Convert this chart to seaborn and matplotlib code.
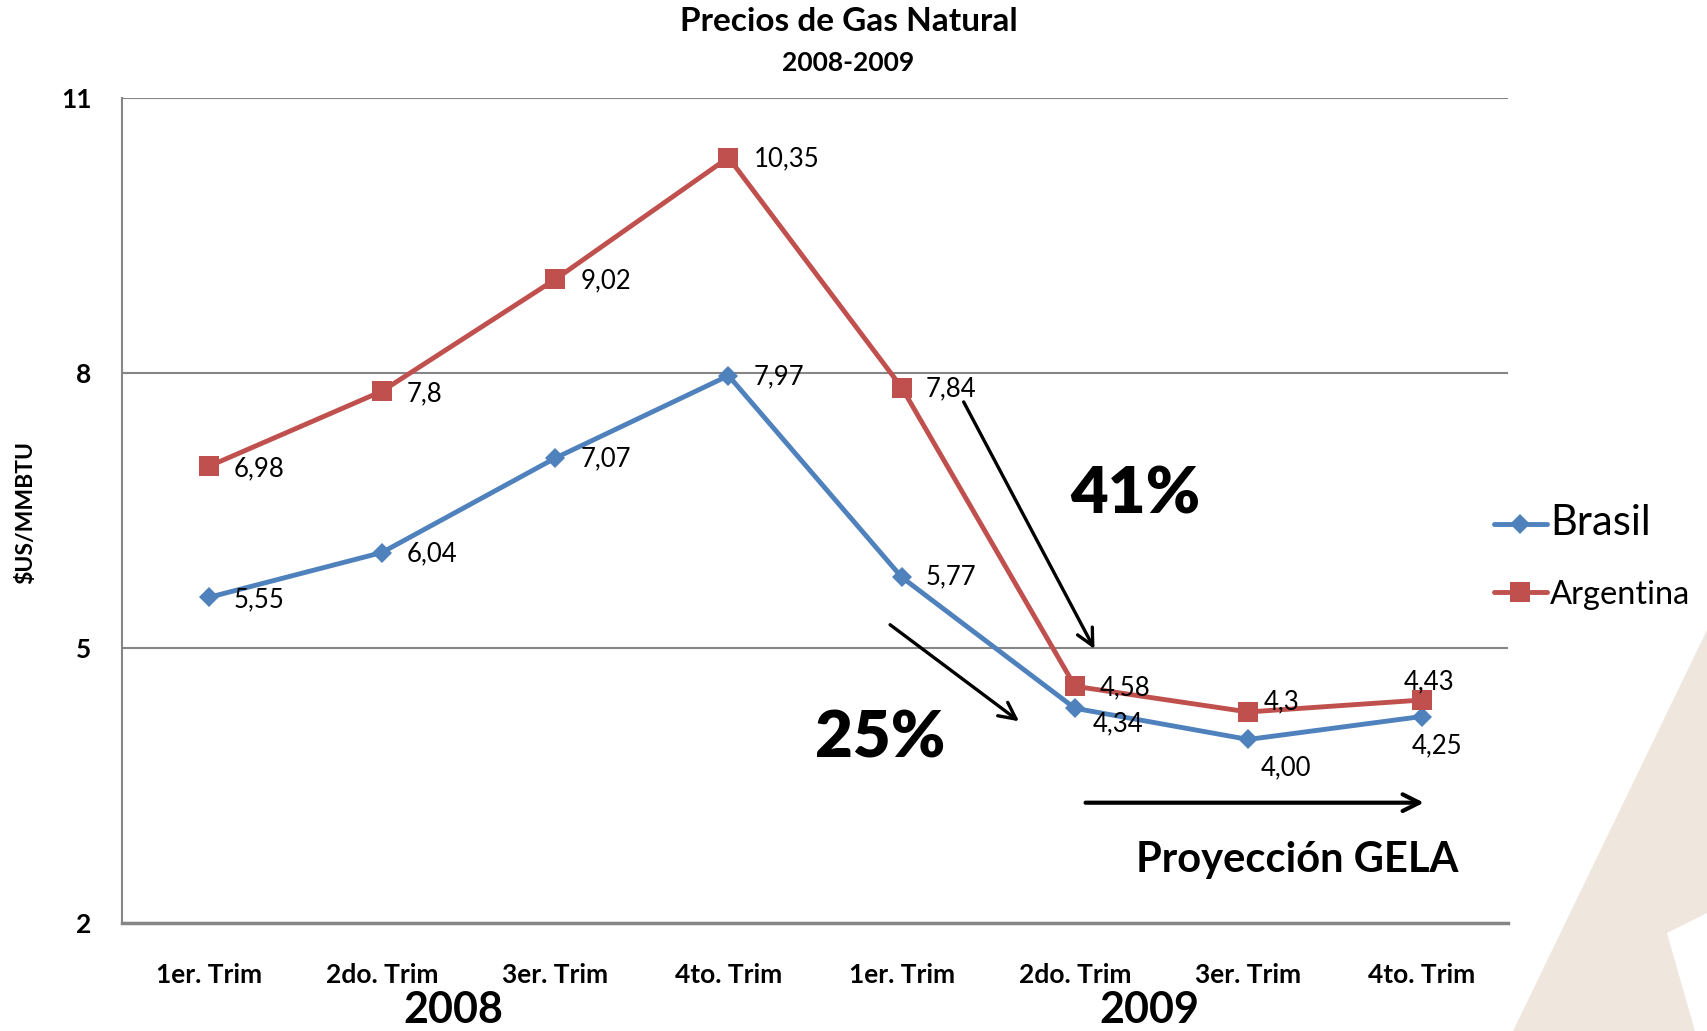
import matplotlib.pyplot as plt
from matplotlib.lines import Line2D
from matplotlib.patches import Polygon
import seaborn as sns
import pandas as pd

quarters = ["1er. Trim", "2do. Trim", "3er. Trim", "4to. Trim",
            "1er. Trim", "2do. Trim", "3er. Trim", "4to. Trim"]
years = ["2008", "2009"]
brasil = [5.55, 6.04, 7.07, 7.97, 5.77, 4.34, 4.00, 4.25]
argentina = [6.98, 7.80, 9.02, 10.35, 7.84, 4.58, 4.30, 4.43]
brasil_labels = ["5,55", "6,04", "7,07", "7,97", "5,77", "4,34", "4,00", "4,25"]
argentina_labels = ["6,98", "7,8", "9,02", "10,35", "7,84", "4,58", "4,3", "4,43"]
yticks = [2, 5, 8, 11]

# where each value label sits relative to its point (points)
brasil_offsets = [(18, -1.6), (18, -0.8), (18, -0.8), (18, -0.8),
                  (17, 0), (13, -11), (9, -20.4), (-7, -21.2)]
argentina_offsets = [(18, -1.6), (18, -1.6), (18, -0.8), (18, -0.8),
                     (17, -0.8), (18, -0.8), (11, 7), (-12.5, 13.3)]

colors = {"Brasil": "#4F81BD", "Argentina": "#C0504D"}

df = pd.DataFrame({
    "pos": list(range(len(quarters))) * 2,
    "Precio": brasil + argentina,
    "Pais": ["Brasil"] * len(brasil) + ["Argentina"] * len(argentina),
})

sns.set_style("white")
plt.rcParams["font.family"] = ["Lato", "DejaVu Sans"]
plt.rcParams["text.color"] = "black"
plt.rcParams["xtick.color"] = "black"
plt.rcParams["ytick.color"] = "black"

fig = plt.figure(figsize=(17.07, 10.31), dpi=100)

# beige watermark at the bottom right
px = lambda x, y: (x / 1707, 1 - y / 1031)
fig.add_artist(Polygon([px(1513, 1031), px(1707, 630), px(1707, 1031)],
                       closed=True, transform=fig.transFigure,
                       facecolor="#EFE7DD", edgecolor="none", zorder=0))
fig.add_artist(Polygon([px(1667, 933), px(1707, 913), px(1707, 1031), px(1695, 1031)],
                       closed=True, transform=fig.transFigure,
                       facecolor="white", edgecolor="none", zorder=0))

ax = fig.add_axes([0.0715, 0.105, 0.812, 0.800])
ax.patch.set_alpha(0)

sns.lineplot(
    data=df, x="pos", y="Precio", hue="Pais", style="Pais",
    hue_order=["Brasil", "Argentina"], style_order=["Brasil", "Argentina"],
    markers={"Brasil": "D", "Argentina": "s"}, dashes=False,
    palette=colors, linewidth=3.5, markeredgewidth=0, legend=False, ax=ax,
)
ax.lines[0].set_markersize(10.5)
ax.lines[1].set_markersize(14)

for i in range(len(quarters)):
    ax.annotate(brasil_labels[i], (i, brasil[i]), xytext=brasil_offsets[i],
                textcoords="offset points", ha="left", va="center", fontsize=18.5)
    ax.annotate(argentina_labels[i], (i, argentina[i]), xytext=argentina_offsets[i],
                textcoords="offset points", ha="left", va="center", fontsize=18.5)

ax.set_xlim(-0.5, 7.5)
ax.set_ylim(2, 11)
ax.set_yticks(yticks)
ax.set_xticks(range(len(quarters)))
ax.set_xticklabels(quarters, fontsize=19, fontweight="bold")
ax.set_yticklabels([str(t) for t in yticks], fontsize=19, fontweight="bold")
ax.tick_params(axis="x", length=0, pad=29)
ax.tick_params(axis="y", length=0, pad=22)
ax.set_xlabel("")
ax.set_ylabel("")

ax.yaxis.grid(True, color="#868686", linewidth=1.5)
ax.xaxis.grid(False)
ax.set_axisbelow(True)
for side in ["top", "right"]:
    ax.spines[side].set_visible(False)
ax.spines["left"].set_color("#868686")
ax.spines["left"].set_linewidth(1.5)
ax.spines["bottom"].set_color("#868686")
ax.spines["bottom"].set_linewidth(2.5)

# year labels under the quarters
xt = ax.get_xaxis_transform()
ax.text(1.41, -0.106, years[0], transform=xt, ha="center", va="center",
        fontsize=31, fontweight="bold")
ax.text(5.43, -0.106, years[1], transform=xt, ha="center", va="center",
        fontsize=31, fontweight="bold")

# arrows and notes
arrow = dict(arrowstyle="->", lw=2.4, color="black", mutation_scale=30)
ax.annotate("", xy=(5.12, 4.96), xytext=(4.35, 7.71), arrowprops=arrow)
ax.annotate("", xy=(4.69, 4.18), xytext=(3.92, 5.27), arrowprops=arrow)
ax.annotate("", xy=(7.03, 3.31), xytext=(5.045, 3.31),
            arrowprops=dict(arrow, lw=3), annotation_clip=False)
ax.text(5.35, 6.67, "41%", ha="center", va="center", fontsize=47, fontweight="heavy")
ax.text(3.877, 4.0, "25%", ha="center", va="center", fontsize=47, fontweight="heavy")
ax.text(6.28, 2.69, "Proyección GELA", ha="center", va="center",
        fontsize=30, fontweight="bold")

# titles
fig.text(0.497, 0.979, "Precios de Gas Natural", ha="center", va="center",
         fontsize=24, fontweight="bold")
fig.text(0.497, 0.939, "2008-2009", ha="center", va="center",
         fontsize=19, fontweight="bold")
fig.text(0.015, 0.503, r"\$US/MMBTU", rotation=90, ha="center", va="center",
         fontsize=16.5, fontweight="bold")

# legend
handles = [
    Line2D([], [], color=colors["Brasil"], marker="D", markersize=10.5,
           markeredgewidth=0, linewidth=3.5),
    Line2D([], [], color=colors["Argentina"], marker="s", markersize=14,
           markeredgewidth=0, linewidth=3.5),
]
leg = ax.legend(handles, ["Brasil", "Argentina"], loc="center left",
                bbox_to_anchor=(0.862, 0.46), bbox_transform=fig.transFigure,
                frameon=False, fontsize=23.5, handlelength=1.6, handletextpad=0.1,
                labelspacing=1.15, borderpad=0.2)
leg.get_texts()[0].set_fontsize(30)

fig.savefig("out.png", dpi=100)
